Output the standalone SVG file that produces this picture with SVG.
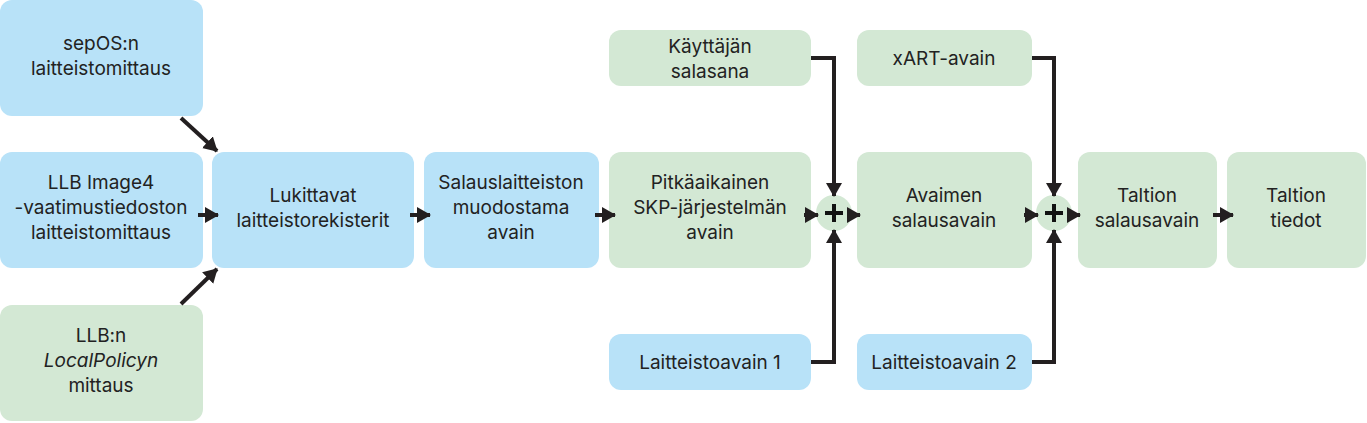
<svg xmlns="http://www.w3.org/2000/svg" width="1367" height="423" viewBox="0 0 1367 423">
<style>
.b{fill:#b8e2f8}.g{fill:#d3e8d4}
text{font-family:Inter,"Noto Sans",sans-serif;font-size:19px;fill:#222;text-anchor:middle}
.c path{fill:none;stroke:#231f20;stroke-width:4;marker-end:url(#a)}
</style>
<defs><marker id="a" markerUnits="userSpaceOnUse" markerWidth="14" markerHeight="16" refX="13" refY="8" orient="auto"><path d="M0,0L14,8L0,16Z" fill="#231f20"/></marker></defs>
<rect width="1367" height="423" fill="#fff"/>
<g id="n1"><rect class="b" x="0" y="0" width="203" height="116" rx="12"/><text x="101" y="50">sepOS:n</text><text x="101" y="75">laitteistomittaus</text></g>
<g id="n2"><rect class="b" x="0" y="152" width="203" height="116" rx="12"/><text x="101" y="189">LLB Image4</text><text x="101" y="214">-vaatimustiedoston</text><text x="101" y="239">laitteistomittaus</text></g>
<g id="n3"><rect class="g" x="0" y="305" width="203" height="116" rx="12"/><text x="101" y="342">LLB:n</text><text x="101" y="367" font-style="italic">LocalPolicyn</text><text x="101" y="392">mittaus</text></g>
<g id="n4"><rect class="b" x="212" y="152" width="202" height="116" rx="12"/><text x="313" y="202">Lukittavat</text><text x="313" y="227">laitteistorekisterit</text></g>
<g id="n5"><rect class="b" x="424" y="152" width="175" height="116" rx="12"/><text x="511" y="189">Salauslaitteiston</text><text x="511" y="214">muodostama</text><text x="511" y="239">avain</text></g>
<g id="n6"><rect class="g" x="609" y="152" width="202" height="116" rx="12"/><text x="710" y="189">Pitkäaikainen</text><text x="710" y="214">SKP-järjestelmän</text><text x="710" y="239">avain</text></g>
<g id="n7"><rect class="g" x="609" y="30" width="202" height="56" rx="12"/><text x="710" y="53">Käyttäjän</text><text x="710" y="78">salasana</text></g>
<g id="n8"><rect class="b" x="609" y="334" width="202" height="56" rx="12"/><text x="710" y="369">Laitteistoavain 1</text></g>
<g id="p1"><circle class="g" cx="834" cy="213" r="18"/><path d="M834,204v18M825,213h18" stroke="#111" stroke-width="4"/></g>
<g id="n9"><rect class="g" x="857" y="152" width="175" height="116" rx="12"/><text x="944" y="202">Avaimen</text><text x="944" y="227">salausavain</text></g>
<g id="n10"><rect class="g" x="857" y="30" width="175" height="56" rx="12"/><text x="944" y="65">xART-avain</text></g>
<g id="n11"><rect class="b" x="857" y="334" width="175" height="56" rx="12"/><text x="944" y="369">Laitteistoavain 2</text></g>
<g id="p2"><circle class="g" cx="1054" cy="213" r="18"/><path d="M1054,204v18M1045,213h18" stroke="#111" stroke-width="4"/></g>
<g id="n12"><rect class="g" x="1078" y="152" width="139" height="116" rx="12"/><text x="1147" y="202">Taltion</text><text x="1147" y="227">salausavain</text></g>
<g id="n13"><rect class="g" x="1227" y="152" width="139" height="116" rx="12"/><text x="1296" y="202">Taltion</text><text x="1296" y="227">tiedot</text></g>
<g class="c" id="connectors">
<path d="M181,118L217,151"/>
<path d="M198,215H218"/>
<path d="M181,304L217,269"/>
<path d="M410,215H430"/>
<path d="M595,215H615"/>
<path d="M804,215H818"/>
<path d="M848,215H860"/>
<path d="M811,58H834V196"/>
<path d="M811,362H834V230"/>
<path d="M1024,215H1038"/>
<path d="M1068,215H1080"/>
<path d="M1032,58H1054V196"/>
<path d="M1032,362H1054V230"/>
<path d="M1213,215H1233"/>
</g>
</svg>
